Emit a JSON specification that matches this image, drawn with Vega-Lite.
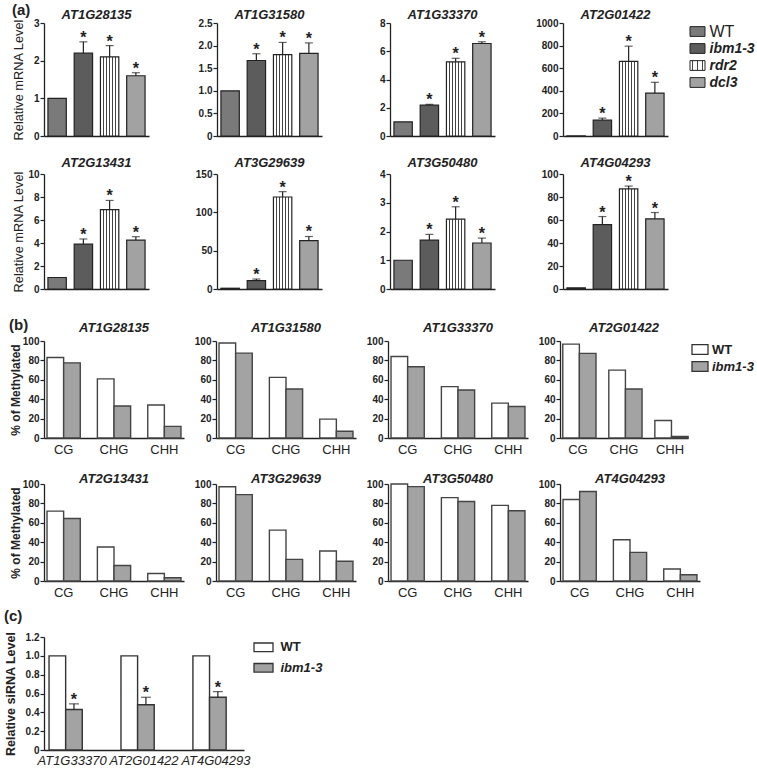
{
"$schema":"https://vega.github.io/schema/vega-lite/v6.json",
"padding":{"left":3,"top":3,"right":0,"bottom":0},
"datasets":{
"mrna":[
{"gene":"AT1G28135","g":"WT","v":1.0,"hi":null},
{"gene":"AT1G28135","g":"ibm1-3","v":2.2,"hi":2.5},
{"gene":"AT1G28135","g":"rdr2","v":2.1,"hi":2.4},
{"gene":"AT1G28135","g":"dcl3","v":1.6,"hi":1.68},
{"gene":"AT1G31580","g":"WT","v":1.0,"hi":null},
{"gene":"AT1G31580","g":"ibm1-3","v":1.67,"hi":1.82},
{"gene":"AT1G31580","g":"rdr2","v":1.8,"hi":2.07},
{"gene":"AT1G31580","g":"dcl3","v":1.83,"hi":2.06},
{"gene":"AT1G33370","g":"WT","v":1.0,"hi":null},
{"gene":"AT1G33370","g":"ibm1-3","v":2.18,"hi":2.24},
{"gene":"AT1G33370","g":"rdr2","v":5.25,"hi":5.5},
{"gene":"AT1G33370","g":"dcl3","v":6.55,"hi":6.67},
{"gene":"AT2G01422","g":"WT","v":1,"hi":null},
{"gene":"AT2G01422","g":"ibm1-3","v":140,"hi":158},
{"gene":"AT2G01422","g":"rdr2","v":660,"hi":795},
{"gene":"AT2G01422","g":"dcl3","v":380,"hi":475},
{"gene":"AT2G13431","g":"WT","v":1.0,"hi":null},
{"gene":"AT2G13431","g":"ibm1-3","v":3.9,"hi":4.35},
{"gene":"AT2G13431","g":"rdr2","v":6.9,"hi":7.7},
{"gene":"AT2G13431","g":"dcl3","v":4.25,"hi":4.55},
{"gene":"AT3G29639","g":"WT","v":1,"hi":null},
{"gene":"AT3G29639","g":"ibm1-3","v":11,"hi":13},
{"gene":"AT3G29639","g":"rdr2","v":120,"hi":127},
{"gene":"AT3G29639","g":"dcl3","v":63,"hi":68.5},
{"gene":"AT3G50480","g":"WT","v":1.0,"hi":null},
{"gene":"AT3G50480","g":"ibm1-3","v":1.7,"hi":1.9},
{"gene":"AT3G50480","g":"rdr2","v":2.43,"hi":2.86},
{"gene":"AT3G50480","g":"dcl3","v":1.6,"hi":1.77},
{"gene":"AT4G04293","g":"WT","v":1,"hi":null},
{"gene":"AT4G04293","g":"ibm1-3","v":56,"hi":63},
{"gene":"AT4G04293","g":"rdr2","v":87,"hi":89.5},
{"gene":"AT4G04293","g":"dcl3","v":61,"hi":66.5}
],
"meth":[
{"gene":"AT1G28135","c":"CG","g":"WT","v":83},{"gene":"AT1G28135","c":"CG","g":"ibm1-3","v":77.5},
{"gene":"AT1G28135","c":"CHG","g":"WT","v":61},{"gene":"AT1G28135","c":"CHG","g":"ibm1-3","v":33},
{"gene":"AT1G28135","c":"CHH","g":"WT","v":34},{"gene":"AT1G28135","c":"CHH","g":"ibm1-3","v":12},
{"gene":"AT1G31580","c":"CG","g":"WT","v":98},{"gene":"AT1G31580","c":"CG","g":"ibm1-3","v":87.5},
{"gene":"AT1G31580","c":"CHG","g":"WT","v":62.5},{"gene":"AT1G31580","c":"CHG","g":"ibm1-3","v":50.5},
{"gene":"AT1G31580","c":"CHH","g":"WT","v":19.5},{"gene":"AT1G31580","c":"CHH","g":"ibm1-3","v":7},
{"gene":"AT1G33370","c":"CG","g":"WT","v":84},{"gene":"AT1G33370","c":"CG","g":"ibm1-3","v":73.5},
{"gene":"AT1G33370","c":"CHG","g":"WT","v":53},{"gene":"AT1G33370","c":"CHG","g":"ibm1-3","v":49.5},
{"gene":"AT1G33370","c":"CHH","g":"WT","v":36},{"gene":"AT1G33370","c":"CHH","g":"ibm1-3","v":32.5},
{"gene":"AT2G01422","c":"CG","g":"WT","v":96.8},{"gene":"AT2G01422","c":"CG","g":"ibm1-3","v":87.2},
{"gene":"AT2G01422","c":"CHG","g":"WT","v":70},{"gene":"AT2G01422","c":"CHG","g":"ibm1-3","v":50.5},
{"gene":"AT2G01422","c":"CHH","g":"WT","v":18},{"gene":"AT2G01422","c":"CHH","g":"ibm1-3","v":1.5},
{"gene":"AT2G13431","c":"CG","g":"WT","v":72},{"gene":"AT2G13431","c":"CG","g":"ibm1-3","v":64.5},
{"gene":"AT2G13431","c":"CHG","g":"WT","v":35},{"gene":"AT2G13431","c":"CHG","g":"ibm1-3","v":16},
{"gene":"AT2G13431","c":"CHH","g":"WT","v":7.8},{"gene":"AT2G13431","c":"CHH","g":"ibm1-3","v":3.3},
{"gene":"AT3G29639","c":"CG","g":"WT","v":97.2},{"gene":"AT3G29639","c":"CG","g":"ibm1-3","v":89},
{"gene":"AT3G29639","c":"CHG","g":"WT","v":52.5},{"gene":"AT3G29639","c":"CHG","g":"ibm1-3","v":22.3},
{"gene":"AT3G29639","c":"CHH","g":"WT","v":31},{"gene":"AT3G29639","c":"CHH","g":"ibm1-3","v":20.3},
{"gene":"AT3G50480","c":"CG","g":"WT","v":100},{"gene":"AT3G50480","c":"CG","g":"ibm1-3","v":97.3},
{"gene":"AT3G50480","c":"CHG","g":"WT","v":86},{"gene":"AT3G50480","c":"CHG","g":"ibm1-3","v":82},
{"gene":"AT3G50480","c":"CHH","g":"WT","v":78},{"gene":"AT3G50480","c":"CHH","g":"ibm1-3","v":72.5},
{"gene":"AT4G04293","c":"CG","g":"WT","v":84},{"gene":"AT4G04293","c":"CG","g":"ibm1-3","v":92.3},
{"gene":"AT4G04293","c":"CHG","g":"WT","v":42.5},{"gene":"AT4G04293","c":"CHG","g":"ibm1-3","v":29.5},
{"gene":"AT4G04293","c":"CHH","g":"WT","v":12.4},{"gene":"AT4G04293","c":"CHH","g":"ibm1-3","v":6.5}
],
"sirna":[
{"gene":"AT1G33370","g":"WT","v":1.0,"hi":null},{"gene":"AT1G33370","g":"ibm1-3","v":0.43,"hi":0.49},
{"gene":"AT2G01422","g":"WT","v":1.0,"hi":null},{"gene":"AT2G01422","g":"ibm1-3","v":0.48,"hi":0.56},
{"gene":"AT4G04293","g":"WT","v":1.0,"hi":null},{"gene":"AT4G04293","g":"ibm1-3","v":0.56,"hi":0.62}
],
"legA":[{"g":"WT"},{"g":"ibm1-3"},{"g":"rdr2"},{"g":"dcl3"}],
"legB":[{"g":"WT"},{"g":"ibm1-3"}]
},
"config":{
"font":"Liberation Sans",
"view":{"stroke":null},
"axis":{"grid":false,"labelOverlap":false,"domainColor":"#222222","domainWidth":1.3,"tickColor":"#222222","tickWidth":1.2,"tickSize":4,"labelColor":"#222222","labelFontSize":10,"labelFontWeight":"bold","labelPadding":1,"titleColor":"#222222"},
"title":{"fontSize":13,"fontWeight":"bold","fontStyle":"italic","color":"#222222","offset":4},
"bar":{"stroke":"#222222","strokeWidth":1.2},
"rule":{"color":"#222222","strokeWidth":1.2},
"tick":{"color":"#222222","thickness":1.2},
"text":{"fontSize":16,"fontWeight":"bold","color":"#222222"}
},
"vconcat":[
{"vconcat":[
{"title":{"text":"(a)","anchor":"start","fontSize":15,"fontStyle":"normal","fontWeight":"bold","offset":-9},
"vconcat":[
{"hconcat":[
{"width":105,"height":113,"data":{"name":"mrna"},"transform":[{"filter":"datum.gene==='AT1G28135'"}],"title":{"text":"AT1G28135","offset":-4},
"encoding":{"x":{"field":"g","type":"nominal","sort":["WT","ibm1-3","rdr2","dcl3"],"scale":{"paddingInner":0.3,"paddingOuter":0.15},"axis":{"labels":false,"ticks":false,"title":null}}},
"layer":[
{"mark":"bar","encoding":{"y":{"field":"v","type":"quantitative","scale":{"domain":[0,3],"nice":false},"axis":{"values":[0,1,2,3],"labelOverlap":false,"title":"Relative mRNA Level","titleFontSize":12.8,"titleFontWeight":"normal","titlePadding":1,"minExtent":18,"maxExtent":18}},
"fill":{"condition":[{"test":"datum.g==='WT'","value":"#7a7a7a"},{"test":"datum.g==='ibm1-3'","value":"#5c5c5c"},{"test":"datum.g==='rdr2'","value":{"gradient":"linear","x1":0,"y1":0,"x2":1,"y2":0,"stops":[{"offset":0,"color":"#ffffff"},{"offset":0.14,"color":"#ffffff"},{"offset":0.14,"color":"#444444"},{"offset":0.19,"color":"#444444"},{"offset":0.19,"color":"#ffffff"},{"offset":0.31,"color":"#ffffff"},{"offset":0.31,"color":"#444444"},{"offset":0.36,"color":"#444444"},{"offset":0.36,"color":"#ffffff"},{"offset":0.48,"color":"#ffffff"},{"offset":0.48,"color":"#444444"},{"offset":0.53,"color":"#444444"},{"offset":0.53,"color":"#ffffff"},{"offset":0.64,"color":"#ffffff"},{"offset":0.64,"color":"#444444"},{"offset":0.69,"color":"#444444"},{"offset":0.69,"color":"#ffffff"},{"offset":0.81,"color":"#ffffff"},{"offset":0.81,"color":"#444444"},{"offset":0.86,"color":"#444444"},{"offset":0.86,"color":"#ffffff"},{"offset":1,"color":"#ffffff"}]}}],"value":"#a2a2a2"}}},
{"transform":[{"filter":"isValid(datum.hi)"}],"mark":"rule","encoding":{"y":{"field":"v","type":"quantitative","axis":{"values":[0,1,2,3],"labelOverlap":false,"title":"Relative mRNA Level","titleFontSize":12.8,"titleFontWeight":"normal","titlePadding":1,"minExtent":18,"maxExtent":18}},"y2":{"field":"hi"}}},
{"transform":[{"filter":"isValid(datum.hi)"}],"mark":{"type":"tick","size":8},"encoding":{"y":{"field":"hi","type":"quantitative","axis":{"values":[0,1,2,3],"labelOverlap":false,"title":"Relative mRNA Level","titleFontSize":12.8,"titleFontWeight":"normal","titlePadding":1,"minExtent":18,"maxExtent":18}}}},
{"transform":[{"filter":"isValid(datum.hi)"}],"mark":{"type":"text","text":"*","baseline":"alphabetic","dy":1},"encoding":{"y":{"field":"hi","type":"quantitative","axis":{"values":[0,1,2,3],"labelOverlap":false,"title":"Relative mRNA Level","titleFontSize":12.8,"titleFontWeight":"normal","titlePadding":1,"minExtent":18,"maxExtent":18}}}}
]},
{"width":105,"height":113,"data":{"name":"mrna"},"transform":[{"filter":"datum.gene==='AT1G31580'"}],"title":{"text":"AT1G31580","offset":-4},
"encoding":{"x":{"field":"g","type":"nominal","sort":["WT","ibm1-3","rdr2","dcl3"],"scale":{"paddingInner":0.3,"paddingOuter":0.15},"axis":{"labels":false,"ticks":false,"title":null}}},
"layer":[
{"mark":"bar","encoding":{"y":{"field":"v","type":"quantitative","scale":{"domain":[0,2.5],"nice":false},"axis":{"values":[0,0.5,1,1.5,2,2.5],"labelOverlap":false,"labelExpr":"datum.value===0?'0':format(datum.value,'.1f')","title":null,"minExtent":30,"maxExtent":30}},
"fill":{"condition":[{"test":"datum.g==='WT'","value":"#7a7a7a"},{"test":"datum.g==='ibm1-3'","value":"#5c5c5c"},{"test":"datum.g==='rdr2'","value":{"gradient":"linear","x1":0,"y1":0,"x2":1,"y2":0,"stops":[{"offset":0,"color":"#ffffff"},{"offset":0.14,"color":"#ffffff"},{"offset":0.14,"color":"#444444"},{"offset":0.19,"color":"#444444"},{"offset":0.19,"color":"#ffffff"},{"offset":0.31,"color":"#ffffff"},{"offset":0.31,"color":"#444444"},{"offset":0.36,"color":"#444444"},{"offset":0.36,"color":"#ffffff"},{"offset":0.48,"color":"#ffffff"},{"offset":0.48,"color":"#444444"},{"offset":0.53,"color":"#444444"},{"offset":0.53,"color":"#ffffff"},{"offset":0.64,"color":"#ffffff"},{"offset":0.64,"color":"#444444"},{"offset":0.69,"color":"#444444"},{"offset":0.69,"color":"#ffffff"},{"offset":0.81,"color":"#ffffff"},{"offset":0.81,"color":"#444444"},{"offset":0.86,"color":"#444444"},{"offset":0.86,"color":"#ffffff"},{"offset":1,"color":"#ffffff"}]}}],"value":"#a2a2a2"}}},
{"transform":[{"filter":"isValid(datum.hi)"}],"mark":"rule","encoding":{"y":{"field":"v","type":"quantitative","axis":{"values":[0,0.5,1,1.5,2,2.5],"labelOverlap":false,"labelExpr":"datum.value===0?'0':format(datum.value,'.1f')","title":null,"minExtent":30,"maxExtent":30}},"y2":{"field":"hi"}}},
{"transform":[{"filter":"isValid(datum.hi)"}],"mark":{"type":"tick","size":8},"encoding":{"y":{"field":"hi","type":"quantitative","axis":{"values":[0,0.5,1,1.5,2,2.5],"labelOverlap":false,"labelExpr":"datum.value===0?'0':format(datum.value,'.1f')","title":null,"minExtent":30,"maxExtent":30}}}},
{"transform":[{"filter":"isValid(datum.hi)"}],"mark":{"type":"text","text":"*","baseline":"alphabetic","dy":1},"encoding":{"y":{"field":"hi","type":"quantitative","axis":{"values":[0,0.5,1,1.5,2,2.5],"labelOverlap":false,"labelExpr":"datum.value===0?'0':format(datum.value,'.1f')","title":null,"minExtent":30,"maxExtent":30}}}}
]},
{"width":105,"height":113,"data":{"name":"mrna"},"transform":[{"filter":"datum.gene==='AT1G33370'"}],"title":{"text":"AT1G33370","offset":-4},
"encoding":{"x":{"field":"g","type":"nominal","sort":["WT","ibm1-3","rdr2","dcl3"],"scale":{"paddingInner":0.3,"paddingOuter":0.15},"axis":{"labels":false,"ticks":false,"title":null}}},
"layer":[
{"mark":"bar","encoding":{"y":{"field":"v","type":"quantitative","scale":{"domain":[0,8],"nice":false},"axis":{"values":[0,2,4,6,8],"labelOverlap":false,"title":null,"minExtent":30,"maxExtent":30}},
"fill":{"condition":[{"test":"datum.g==='WT'","value":"#7a7a7a"},{"test":"datum.g==='ibm1-3'","value":"#5c5c5c"},{"test":"datum.g==='rdr2'","value":{"gradient":"linear","x1":0,"y1":0,"x2":1,"y2":0,"stops":[{"offset":0,"color":"#ffffff"},{"offset":0.14,"color":"#ffffff"},{"offset":0.14,"color":"#444444"},{"offset":0.19,"color":"#444444"},{"offset":0.19,"color":"#ffffff"},{"offset":0.31,"color":"#ffffff"},{"offset":0.31,"color":"#444444"},{"offset":0.36,"color":"#444444"},{"offset":0.36,"color":"#ffffff"},{"offset":0.48,"color":"#ffffff"},{"offset":0.48,"color":"#444444"},{"offset":0.53,"color":"#444444"},{"offset":0.53,"color":"#ffffff"},{"offset":0.64,"color":"#ffffff"},{"offset":0.64,"color":"#444444"},{"offset":0.69,"color":"#444444"},{"offset":0.69,"color":"#ffffff"},{"offset":0.81,"color":"#ffffff"},{"offset":0.81,"color":"#444444"},{"offset":0.86,"color":"#444444"},{"offset":0.86,"color":"#ffffff"},{"offset":1,"color":"#ffffff"}]}}],"value":"#a2a2a2"}}},
{"transform":[{"filter":"isValid(datum.hi)"}],"mark":"rule","encoding":{"y":{"field":"v","type":"quantitative","axis":{"values":[0,2,4,6,8],"labelOverlap":false,"title":null,"minExtent":30,"maxExtent":30}},"y2":{"field":"hi"}}},
{"transform":[{"filter":"isValid(datum.hi)"}],"mark":{"type":"tick","size":8},"encoding":{"y":{"field":"hi","type":"quantitative","axis":{"values":[0,2,4,6,8],"labelOverlap":false,"title":null,"minExtent":30,"maxExtent":30}}}},
{"transform":[{"filter":"isValid(datum.hi)"}],"mark":{"type":"text","text":"*","baseline":"alphabetic","dy":1},"encoding":{"y":{"field":"hi","type":"quantitative","axis":{"values":[0,2,4,6,8],"labelOverlap":false,"title":null,"minExtent":30,"maxExtent":30}}}}
]},
{"hconcat":[
{"width":105,"height":113,"data":{"name":"mrna"},"transform":[{"filter":"datum.gene==='AT2G01422'"}],"title":{"text":"AT2G01422","offset":-4},
"encoding":{"x":{"field":"g","type":"nominal","sort":["WT","ibm1-3","rdr2","dcl3"],"scale":{"paddingInner":0.3,"paddingOuter":0.15},"axis":{"labels":false,"ticks":false,"title":null}}},
"layer":[
{"mark":"bar","encoding":{"y":{"field":"v","type":"quantitative","scale":{"domain":[0,1000],"nice":false},"axis":{"values":[0,200,400,600,800,1000],"format":"d","labelOverlap":false,"title":null,"minExtent":30,"maxExtent":30}},
"fill":{"condition":[{"test":"datum.g==='WT'","value":"#7a7a7a"},{"test":"datum.g==='ibm1-3'","value":"#5c5c5c"},{"test":"datum.g==='rdr2'","value":{"gradient":"linear","x1":0,"y1":0,"x2":1,"y2":0,"stops":[{"offset":0,"color":"#ffffff"},{"offset":0.14,"color":"#ffffff"},{"offset":0.14,"color":"#444444"},{"offset":0.19,"color":"#444444"},{"offset":0.19,"color":"#ffffff"},{"offset":0.31,"color":"#ffffff"},{"offset":0.31,"color":"#444444"},{"offset":0.36,"color":"#444444"},{"offset":0.36,"color":"#ffffff"},{"offset":0.48,"color":"#ffffff"},{"offset":0.48,"color":"#444444"},{"offset":0.53,"color":"#444444"},{"offset":0.53,"color":"#ffffff"},{"offset":0.64,"color":"#ffffff"},{"offset":0.64,"color":"#444444"},{"offset":0.69,"color":"#444444"},{"offset":0.69,"color":"#ffffff"},{"offset":0.81,"color":"#ffffff"},{"offset":0.81,"color":"#444444"},{"offset":0.86,"color":"#444444"},{"offset":0.86,"color":"#ffffff"},{"offset":1,"color":"#ffffff"}]}}],"value":"#a2a2a2"}}},
{"transform":[{"filter":"isValid(datum.hi)"}],"mark":"rule","encoding":{"y":{"field":"v","type":"quantitative","axis":{"values":[0,200,400,600,800,1000],"format":"d","labelOverlap":false,"title":null,"minExtent":30,"maxExtent":30}},"y2":{"field":"hi"}}},
{"transform":[{"filter":"isValid(datum.hi)"}],"mark":{"type":"tick","size":8},"encoding":{"y":{"field":"hi","type":"quantitative","axis":{"values":[0,200,400,600,800,1000],"format":"d","labelOverlap":false,"title":null,"minExtent":30,"maxExtent":30}}}},
{"transform":[{"filter":"isValid(datum.hi)"}],"mark":{"type":"text","text":"*","baseline":"alphabetic","dy":1},"encoding":{"y":{"field":"hi","type":"quantitative","axis":{"values":[0,200,400,600,800,1000],"format":"d","labelOverlap":false,"title":null,"minExtent":30,"maxExtent":30}}}}
]},
{"width":15,"height":68,"data":{"name":"legA"},
"encoding":{"y":{"field":"g","type":"nominal","sort":["WT","ibm1-3","rdr2","dcl3"],"scale":{"type":"point","paddingOuter":0.46},"axis":null}},
"layer":[
{"mark":{"type":"point","shape":"M-1,-0.65L1,-0.65L1,0.65L-1,0.65Z","filled":true,"size":225,"opacity":1,"stroke":"#222222","strokeWidth":1},
"encoding":{"fill":{"condition":[{"test":"datum.g==='WT'","value":"#7a7a7a"},{"test":"datum.g==='ibm1-3'","value":"#5c5c5c"},{"test":"datum.g==='rdr2'","value":{"gradient":"linear","x1":0,"y1":0,"x2":1,"y2":0,"stops":[{"offset":0,"color":"#ffffff"},{"offset":0.14,"color":"#ffffff"},{"offset":0.14,"color":"#444444"},{"offset":0.19,"color":"#444444"},{"offset":0.19,"color":"#ffffff"},{"offset":0.31,"color":"#ffffff"},{"offset":0.31,"color":"#444444"},{"offset":0.36,"color":"#444444"},{"offset":0.36,"color":"#ffffff"},{"offset":0.48,"color":"#ffffff"},{"offset":0.48,"color":"#444444"},{"offset":0.53,"color":"#444444"},{"offset":0.53,"color":"#ffffff"},{"offset":0.64,"color":"#ffffff"},{"offset":0.64,"color":"#444444"},{"offset":0.69,"color":"#444444"},{"offset":0.69,"color":"#ffffff"},{"offset":0.81,"color":"#ffffff"},{"offset":0.81,"color":"#444444"},{"offset":0.86,"color":"#444444"},{"offset":0.86,"color":"#ffffff"},{"offset":1,"color":"#ffffff"}]}}],"value":"#a2a2a2"}}},
{"transform":[{"filter":"datum.g==='WT'"}],"mark":{"type":"text","align":"left","dx":12,"fontSize":16,"fontWeight":"normal"},"encoding":{"text":{"field":"g"}}},
{"transform":[{"filter":"datum.g!=='WT'"}],"mark":{"type":"text","align":"left","dx":12,"fontSize":14,"fontStyle":"italic","fontWeight":"bold"},"encoding":{"text":{"field":"g"}}}
]}
],"spacing":20}
],"spacing":38},
{"hconcat":[
{"width":105,"height":115,"data":{"name":"mrna"},"transform":[{"filter":"datum.gene==='AT2G13431'"}],"title":{"text":"AT2G13431","offset":-1},
"encoding":{"x":{"field":"g","type":"nominal","sort":["WT","ibm1-3","rdr2","dcl3"],"scale":{"paddingInner":0.3,"paddingOuter":0.15},"axis":{"labels":false,"ticks":false,"title":null}}},
"layer":[
{"mark":"bar","encoding":{"y":{"field":"v","type":"quantitative","scale":{"domain":[0,10],"nice":false},"axis":{"values":[0,2,4,6,8,10],"labelOverlap":false,"title":"Relative mRNA Level","titleFontSize":12.8,"titleFontWeight":"normal","titlePadding":1,"minExtent":18,"maxExtent":18}},
"fill":{"condition":[{"test":"datum.g==='WT'","value":"#7a7a7a"},{"test":"datum.g==='ibm1-3'","value":"#5c5c5c"},{"test":"datum.g==='rdr2'","value":{"gradient":"linear","x1":0,"y1":0,"x2":1,"y2":0,"stops":[{"offset":0,"color":"#ffffff"},{"offset":0.14,"color":"#ffffff"},{"offset":0.14,"color":"#444444"},{"offset":0.19,"color":"#444444"},{"offset":0.19,"color":"#ffffff"},{"offset":0.31,"color":"#ffffff"},{"offset":0.31,"color":"#444444"},{"offset":0.36,"color":"#444444"},{"offset":0.36,"color":"#ffffff"},{"offset":0.48,"color":"#ffffff"},{"offset":0.48,"color":"#444444"},{"offset":0.53,"color":"#444444"},{"offset":0.53,"color":"#ffffff"},{"offset":0.64,"color":"#ffffff"},{"offset":0.64,"color":"#444444"},{"offset":0.69,"color":"#444444"},{"offset":0.69,"color":"#ffffff"},{"offset":0.81,"color":"#ffffff"},{"offset":0.81,"color":"#444444"},{"offset":0.86,"color":"#444444"},{"offset":0.86,"color":"#ffffff"},{"offset":1,"color":"#ffffff"}]}}],"value":"#a2a2a2"}}},
{"transform":[{"filter":"isValid(datum.hi)"}],"mark":"rule","encoding":{"y":{"field":"v","type":"quantitative","axis":{"values":[0,2,4,6,8,10],"labelOverlap":false,"title":"Relative mRNA Level","titleFontSize":12.8,"titleFontWeight":"normal","titlePadding":1,"minExtent":18,"maxExtent":18}},"y2":{"field":"hi"}}},
{"transform":[{"filter":"isValid(datum.hi)"}],"mark":{"type":"tick","size":8},"encoding":{"y":{"field":"hi","type":"quantitative","axis":{"values":[0,2,4,6,8,10],"labelOverlap":false,"title":"Relative mRNA Level","titleFontSize":12.8,"titleFontWeight":"normal","titlePadding":1,"minExtent":18,"maxExtent":18}}}},
{"transform":[{"filter":"isValid(datum.hi)"}],"mark":{"type":"text","text":"*","baseline":"alphabetic","dy":1},"encoding":{"y":{"field":"hi","type":"quantitative","axis":{"values":[0,2,4,6,8,10],"labelOverlap":false,"title":"Relative mRNA Level","titleFontSize":12.8,"titleFontWeight":"normal","titlePadding":1,"minExtent":18,"maxExtent":18}}}}
]},
{"width":105,"height":115,"data":{"name":"mrna"},"transform":[{"filter":"datum.gene==='AT3G29639'"}],"title":{"text":"AT3G29639","offset":-1},
"encoding":{"x":{"field":"g","type":"nominal","sort":["WT","ibm1-3","rdr2","dcl3"],"scale":{"paddingInner":0.3,"paddingOuter":0.15},"axis":{"labels":false,"ticks":false,"title":null}}},
"layer":[
{"mark":"bar","encoding":{"y":{"field":"v","type":"quantitative","scale":{"domain":[0,150],"nice":false},"axis":{"values":[0,50,100,150],"labelOverlap":false,"title":null,"minExtent":30,"maxExtent":30}},
"fill":{"condition":[{"test":"datum.g==='WT'","value":"#7a7a7a"},{"test":"datum.g==='ibm1-3'","value":"#5c5c5c"},{"test":"datum.g==='rdr2'","value":{"gradient":"linear","x1":0,"y1":0,"x2":1,"y2":0,"stops":[{"offset":0,"color":"#ffffff"},{"offset":0.14,"color":"#ffffff"},{"offset":0.14,"color":"#444444"},{"offset":0.19,"color":"#444444"},{"offset":0.19,"color":"#ffffff"},{"offset":0.31,"color":"#ffffff"},{"offset":0.31,"color":"#444444"},{"offset":0.36,"color":"#444444"},{"offset":0.36,"color":"#ffffff"},{"offset":0.48,"color":"#ffffff"},{"offset":0.48,"color":"#444444"},{"offset":0.53,"color":"#444444"},{"offset":0.53,"color":"#ffffff"},{"offset":0.64,"color":"#ffffff"},{"offset":0.64,"color":"#444444"},{"offset":0.69,"color":"#444444"},{"offset":0.69,"color":"#ffffff"},{"offset":0.81,"color":"#ffffff"},{"offset":0.81,"color":"#444444"},{"offset":0.86,"color":"#444444"},{"offset":0.86,"color":"#ffffff"},{"offset":1,"color":"#ffffff"}]}}],"value":"#a2a2a2"}}},
{"transform":[{"filter":"isValid(datum.hi)"}],"mark":"rule","encoding":{"y":{"field":"v","type":"quantitative","axis":{"values":[0,50,100,150],"labelOverlap":false,"title":null,"minExtent":30,"maxExtent":30}},"y2":{"field":"hi"}}},
{"transform":[{"filter":"isValid(datum.hi)"}],"mark":{"type":"tick","size":8},"encoding":{"y":{"field":"hi","type":"quantitative","axis":{"values":[0,50,100,150],"labelOverlap":false,"title":null,"minExtent":30,"maxExtent":30}}}},
{"transform":[{"filter":"isValid(datum.hi)"}],"mark":{"type":"text","text":"*","baseline":"alphabetic","dy":1},"encoding":{"y":{"field":"hi","type":"quantitative","axis":{"values":[0,50,100,150],"labelOverlap":false,"title":null,"minExtent":30,"maxExtent":30}}}}
]},
{"width":105,"height":115,"data":{"name":"mrna"},"transform":[{"filter":"datum.gene==='AT3G50480'"}],"title":{"text":"AT3G50480","offset":-1},
"encoding":{"x":{"field":"g","type":"nominal","sort":["WT","ibm1-3","rdr2","dcl3"],"scale":{"paddingInner":0.3,"paddingOuter":0.15},"axis":{"labels":false,"ticks":false,"title":null}}},
"layer":[
{"mark":"bar","encoding":{"y":{"field":"v","type":"quantitative","scale":{"domain":[0,4],"nice":false},"axis":{"values":[0,1,2,3,4],"labelOverlap":false,"title":null,"minExtent":30,"maxExtent":30}},
"fill":{"condition":[{"test":"datum.g==='WT'","value":"#7a7a7a"},{"test":"datum.g==='ibm1-3'","value":"#5c5c5c"},{"test":"datum.g==='rdr2'","value":{"gradient":"linear","x1":0,"y1":0,"x2":1,"y2":0,"stops":[{"offset":0,"color":"#ffffff"},{"offset":0.14,"color":"#ffffff"},{"offset":0.14,"color":"#444444"},{"offset":0.19,"color":"#444444"},{"offset":0.19,"color":"#ffffff"},{"offset":0.31,"color":"#ffffff"},{"offset":0.31,"color":"#444444"},{"offset":0.36,"color":"#444444"},{"offset":0.36,"color":"#ffffff"},{"offset":0.48,"color":"#ffffff"},{"offset":0.48,"color":"#444444"},{"offset":0.53,"color":"#444444"},{"offset":0.53,"color":"#ffffff"},{"offset":0.64,"color":"#ffffff"},{"offset":0.64,"color":"#444444"},{"offset":0.69,"color":"#444444"},{"offset":0.69,"color":"#ffffff"},{"offset":0.81,"color":"#ffffff"},{"offset":0.81,"color":"#444444"},{"offset":0.86,"color":"#444444"},{"offset":0.86,"color":"#ffffff"},{"offset":1,"color":"#ffffff"}]}}],"value":"#a2a2a2"}}},
{"transform":[{"filter":"isValid(datum.hi)"}],"mark":"rule","encoding":{"y":{"field":"v","type":"quantitative","axis":{"values":[0,1,2,3,4],"labelOverlap":false,"title":null,"minExtent":30,"maxExtent":30}},"y2":{"field":"hi"}}},
{"transform":[{"filter":"isValid(datum.hi)"}],"mark":{"type":"tick","size":8},"encoding":{"y":{"field":"hi","type":"quantitative","axis":{"values":[0,1,2,3,4],"labelOverlap":false,"title":null,"minExtent":30,"maxExtent":30}}}},
{"transform":[{"filter":"isValid(datum.hi)"}],"mark":{"type":"text","text":"*","baseline":"alphabetic","dy":1},"encoding":{"y":{"field":"hi","type":"quantitative","axis":{"values":[0,1,2,3,4],"labelOverlap":false,"title":null,"minExtent":30,"maxExtent":30}}}}
]},
{"width":105,"height":115,"data":{"name":"mrna"},"transform":[{"filter":"datum.gene==='AT4G04293'"}],"title":{"text":"AT4G04293","offset":-1},
"encoding":{"x":{"field":"g","type":"nominal","sort":["WT","ibm1-3","rdr2","dcl3"],"scale":{"paddingInner":0.3,"paddingOuter":0.15},"axis":{"labels":false,"ticks":false,"title":null}}},
"layer":[
{"mark":"bar","encoding":{"y":{"field":"v","type":"quantitative","scale":{"domain":[0,100],"nice":false},"axis":{"values":[0,20,40,60,80,100],"labelOverlap":false,"title":null,"minExtent":30,"maxExtent":30}},
"fill":{"condition":[{"test":"datum.g==='WT'","value":"#7a7a7a"},{"test":"datum.g==='ibm1-3'","value":"#5c5c5c"},{"test":"datum.g==='rdr2'","value":{"gradient":"linear","x1":0,"y1":0,"x2":1,"y2":0,"stops":[{"offset":0,"color":"#ffffff"},{"offset":0.14,"color":"#ffffff"},{"offset":0.14,"color":"#444444"},{"offset":0.19,"color":"#444444"},{"offset":0.19,"color":"#ffffff"},{"offset":0.31,"color":"#ffffff"},{"offset":0.31,"color":"#444444"},{"offset":0.36,"color":"#444444"},{"offset":0.36,"color":"#ffffff"},{"offset":0.48,"color":"#ffffff"},{"offset":0.48,"color":"#444444"},{"offset":0.53,"color":"#444444"},{"offset":0.53,"color":"#ffffff"},{"offset":0.64,"color":"#ffffff"},{"offset":0.64,"color":"#444444"},{"offset":0.69,"color":"#444444"},{"offset":0.69,"color":"#ffffff"},{"offset":0.81,"color":"#ffffff"},{"offset":0.81,"color":"#444444"},{"offset":0.86,"color":"#444444"},{"offset":0.86,"color":"#ffffff"},{"offset":1,"color":"#ffffff"}]}}],"value":"#a2a2a2"}}},
{"transform":[{"filter":"isValid(datum.hi)"}],"mark":"rule","encoding":{"y":{"field":"v","type":"quantitative","axis":{"values":[0,20,40,60,80,100],"labelOverlap":false,"title":null,"minExtent":30,"maxExtent":30}},"y2":{"field":"hi"}}},
{"transform":[{"filter":"isValid(datum.hi)"}],"mark":{"type":"tick","size":8},"encoding":{"y":{"field":"hi","type":"quantitative","axis":{"values":[0,20,40,60,80,100],"labelOverlap":false,"title":null,"minExtent":30,"maxExtent":30}}}},
{"transform":[{"filter":"isValid(datum.hi)"}],"mark":{"type":"text","text":"*","baseline":"alphabetic","dy":1},"encoding":{"y":{"field":"hi","type":"quantitative","axis":{"values":[0,20,40,60,80,100],"labelOverlap":false,"title":null,"minExtent":30,"maxExtent":30}}}}
]}
],"spacing":38}
],"spacing":16},
{"title":{"text":"(b)","anchor":"start","fontSize":15,"fontStyle":"normal","fontWeight":"bold","offset":-11},
"vconcat":[
{"hconcat":[
{"width":140,"height":97,"data":{"name":"meth"},"transform":[{"filter":"datum.gene==='AT1G28135'"}],"title":{"text":"AT1G28135","offset":1},"mark":{"type":"bar","stroke":"#444444","strokeWidth":1.4},
"encoding":{"x":{"field":"c","type":"nominal","sort":["CG","CHG","CHH"],"scale":{"paddingInner":0.34,"paddingOuter":0.06},"axis":{"title":null,"labelAngle":0,"ticks":false,"labelFontSize":13,"labelFontWeight":"normal","labelPadding":5}},"xOffset":{"field":"g","type":"nominal","sort":["WT","ibm1-3"]},
"y":{"field":"v","type":"quantitative","scale":{"domain":[0,100],"nice":false},"axis":{"values":[0,20,40,60,80,100],"title":"% of Methylated","titleFontSize":12,"titlePadding":0,"minExtent":22,"maxExtent":22}},
"fill":{"condition":{"test":"datum.g==='WT'","value":"#ffffff"},"value":"#a3a3a3"}}},
{"width":140,"height":97,"data":{"name":"meth"},"transform":[{"filter":"datum.gene==='AT1G31580'"}],"title":{"text":"AT1G31580","offset":1},"mark":{"type":"bar","stroke":"#444444","strokeWidth":1.4},
"encoding":{"x":{"field":"c","type":"nominal","sort":["CG","CHG","CHH"],"scale":{"paddingInner":0.34,"paddingOuter":0.06},"axis":{"title":null,"labelAngle":0,"ticks":false,"labelFontSize":13,"labelFontWeight":"normal","labelPadding":5}},"xOffset":{"field":"g","type":"nominal","sort":["WT","ibm1-3"]},
"y":{"field":"v","type":"quantitative","scale":{"domain":[0,100],"nice":false},"axis":{"values":[0,20,40,60,80,100],"title":null,"minExtent":26,"maxExtent":26}},
"fill":{"condition":{"test":"datum.g==='WT'","value":"#ffffff"},"value":"#a3a3a3"}}},
{"width":140,"height":97,"data":{"name":"meth"},"transform":[{"filter":"datum.gene==='AT1G33370'"}],"title":{"text":"AT1G33370","offset":1},"mark":{"type":"bar","stroke":"#444444","strokeWidth":1.4},
"encoding":{"x":{"field":"c","type":"nominal","sort":["CG","CHG","CHH"],"scale":{"paddingInner":0.34,"paddingOuter":0.06},"axis":{"title":null,"labelAngle":0,"ticks":false,"labelFontSize":13,"labelFontWeight":"normal","labelPadding":5}},"xOffset":{"field":"g","type":"nominal","sort":["WT","ibm1-3"]},
"y":{"field":"v","type":"quantitative","scale":{"domain":[0,100],"nice":false},"axis":{"values":[0,20,40,60,80,100],"title":null,"minExtent":26,"maxExtent":26}},
"fill":{"condition":{"test":"datum.g==='WT'","value":"#ffffff"},"value":"#a3a3a3"}}},
{"hconcat":[
{"width":128,"height":97,"data":{"name":"meth"},"transform":[{"filter":"datum.gene==='AT2G01422'"}],"title":{"text":"AT2G01422","offset":1},"mark":{"type":"bar","stroke":"#444444","strokeWidth":1.4},
"encoding":{"x":{"field":"c","type":"nominal","sort":["CG","CHG","CHH"],"scale":{"paddingInner":0.34,"paddingOuter":0.06},"axis":{"title":null,"labelAngle":0,"ticks":false,"labelFontSize":13,"labelFontWeight":"normal","labelPadding":5}},"xOffset":{"field":"g","type":"nominal","sort":["WT","ibm1-3"]},
"y":{"field":"v","type":"quantitative","scale":{"domain":[0,100],"nice":false},"axis":{"values":[0,20,40,60,80,100],"title":null,"minExtent":26,"maxExtent":26}},
"fill":{"condition":{"test":"datum.g==='WT'","value":"#ffffff"},"value":"#a3a3a3"}}},
{"width":16,"height":34,"data":{"name":"legB"},
"encoding":{"y":{"field":"g","type":"nominal","sort":["WT","ibm1-3"],"scale":{"type":"point","paddingOuter":0.44},"axis":null}},
"layer":[
{"mark":{"type":"point","shape":"M-1,-0.62L1,-0.62L1,0.62L-1,0.62Z","filled":true,"size":256,"opacity":1,"stroke":"#333333","strokeWidth":1.3},"encoding":{"fill":{"condition":{"test":"datum.g==='WT'","value":"#ffffff"},"value":"#a3a3a3"}}},
{"transform":[{"filter":"datum.g==='WT'"}],"mark":{"type":"text","align":"left","dx":12,"fontSize":13,"fontWeight":"bold"},"encoding":{"text":{"field":"g"}}},
{"transform":[{"filter":"datum.g!=='WT'"}],"mark":{"type":"text","align":"left","dx":12,"fontSize":13,"fontStyle":"italic","fontWeight":"bold"},"encoding":{"text":{"field":"g"}}}
]}
],"spacing":0}
],"spacing":6},
{"hconcat":[
{"width":140,"height":97,"data":{"name":"meth"},"transform":[{"filter":"datum.gene==='AT2G13431'"}],"title":{"text":"AT2G13431","offset":-7},"mark":{"type":"bar","stroke":"#444444","strokeWidth":1.4},
"encoding":{"x":{"field":"c","type":"nominal","sort":["CG","CHG","CHH"],"scale":{"paddingInner":0.34,"paddingOuter":0.06},"axis":{"title":null,"labelAngle":0,"ticks":false,"labelFontSize":13,"labelFontWeight":"normal","labelPadding":5}},"xOffset":{"field":"g","type":"nominal","sort":["WT","ibm1-3"]},
"y":{"field":"v","type":"quantitative","scale":{"domain":[0,100],"nice":false},"axis":{"values":[0,20,40,60,80,100],"title":"% of Methylated","titleFontSize":12,"titlePadding":0,"minExtent":22,"maxExtent":22}},
"fill":{"condition":{"test":"datum.g==='WT'","value":"#ffffff"},"value":"#a3a3a3"}}},
{"width":140,"height":97,"data":{"name":"meth"},"transform":[{"filter":"datum.gene==='AT3G29639'"}],"title":{"text":"AT3G29639","offset":-7},"mark":{"type":"bar","stroke":"#444444","strokeWidth":1.4},
"encoding":{"x":{"field":"c","type":"nominal","sort":["CG","CHG","CHH"],"scale":{"paddingInner":0.34,"paddingOuter":0.06},"axis":{"title":null,"labelAngle":0,"ticks":false,"labelFontSize":13,"labelFontWeight":"normal","labelPadding":5}},"xOffset":{"field":"g","type":"nominal","sort":["WT","ibm1-3"]},
"y":{"field":"v","type":"quantitative","scale":{"domain":[0,100],"nice":false},"axis":{"values":[0,20,40,60,80,100],"title":null,"minExtent":26,"maxExtent":26}},
"fill":{"condition":{"test":"datum.g==='WT'","value":"#ffffff"},"value":"#a3a3a3"}}},
{"width":140,"height":97,"data":{"name":"meth"},"transform":[{"filter":"datum.gene==='AT3G50480'"}],"title":{"text":"AT3G50480","offset":-7},"mark":{"type":"bar","stroke":"#444444","strokeWidth":1.4},
"encoding":{"x":{"field":"c","type":"nominal","sort":["CG","CHG","CHH"],"scale":{"paddingInner":0.34,"paddingOuter":0.06},"axis":{"title":null,"labelAngle":0,"ticks":false,"labelFontSize":13,"labelFontWeight":"normal","labelPadding":5}},"xOffset":{"field":"g","type":"nominal","sort":["WT","ibm1-3"]},
"y":{"field":"v","type":"quantitative","scale":{"domain":[0,100],"nice":false},"axis":{"values":[0,20,40,60,80,100],"title":null,"minExtent":26,"maxExtent":26}},
"fill":{"condition":{"test":"datum.g==='WT'","value":"#ffffff"},"value":"#a3a3a3"}}},
{"width":140,"height":97,"data":{"name":"meth"},"transform":[{"filter":"datum.gene==='AT4G04293'"}],"title":{"text":"AT4G04293","offset":-7},"mark":{"type":"bar","stroke":"#444444","strokeWidth":1.4},
"encoding":{"x":{"field":"c","type":"nominal","sort":["CG","CHG","CHH"],"scale":{"paddingInner":0.34,"paddingOuter":0.06},"axis":{"title":null,"labelAngle":0,"ticks":false,"labelFontSize":13,"labelFontWeight":"normal","labelPadding":5}},"xOffset":{"field":"g","type":"nominal","sort":["WT","ibm1-3"]},
"y":{"field":"v","type":"quantitative","scale":{"domain":[0,100],"nice":false},"axis":{"values":[0,20,40,60,80,100],"title":null,"minExtent":26,"maxExtent":26}},
"fill":{"condition":{"test":"datum.g==='WT'","value":"#ffffff"},"value":"#a3a3a3"}}}
],"spacing":6}
],"spacing":17}
],"spacing":24},
{"title":{"text":"(c)","anchor":"start","fontSize":15,"fontStyle":"normal","fontWeight":"bold","offset":7},
"hconcat":[
{"width":200,"height":113,"data":{"name":"sirna"},
"encoding":{"x":{"field":"gene","type":"nominal","sort":["AT1G33370","AT2G01422","AT4G04293"],"scale":{"paddingInner":0.36,"paddingOuter":0.07},"axis":{"title":null,"labelAngle":0,"ticks":false,"labelFontSize":13,"labelFontWeight":"normal","labelFontStyle":"italic","labelPadding":4,"labelOverlap":false}},"xOffset":{"field":"g","type":"nominal","sort":["WT","ibm1-3"]}},
"layer":[
{"mark":{"type":"bar","stroke":"#333333","strokeWidth":1.4},"encoding":{"y":{"field":"v","type":"quantitative","scale":{"domain":[0,1.2],"nice":false},"axis":{"values":[0,0.2,0.4,0.6,0.8,1,1.2],"labelOverlap":false,"labelExpr":"datum.value===0?'0':format(datum.value,'.1f')","title":"Relative siRNA Level","titleFontSize":12.5,"titlePadding":0,"minExtent":27,"maxExtent":27}},
"fill":{"condition":{"test":"datum.g==='WT'","value":"#ffffff"},"value":"#a3a3a3"}}},
{"transform":[{"filter":"isValid(datum.hi)"}],"mark":"rule","encoding":{"y":{"field":"v","type":"quantitative","axis":{"values":[0,0.2,0.4,0.6,0.8,1,1.2],"labelOverlap":false,"labelExpr":"datum.value===0?'0':format(datum.value,'.1f')","title":"Relative siRNA Level","titleFontSize":12.5,"titlePadding":0,"minExtent":27,"maxExtent":27}},"y2":{"field":"hi"}}},
{"transform":[{"filter":"isValid(datum.hi)"}],"mark":{"type":"tick","size":10},"encoding":{"y":{"field":"hi","type":"quantitative","axis":{"values":[0,0.2,0.4,0.6,0.8,1,1.2],"labelOverlap":false,"labelExpr":"datum.value===0?'0':format(datum.value,'.1f')","title":"Relative siRNA Level","titleFontSize":12.5,"titlePadding":0,"minExtent":27,"maxExtent":27}}}},
{"transform":[{"filter":"isValid(datum.hi)"}],"mark":{"type":"text","text":"*","baseline":"alphabetic","dy":1},"encoding":{"y":{"field":"hi","type":"quantitative","axis":{"values":[0,0.2,0.4,0.6,0.8,1,1.2],"labelOverlap":false,"labelExpr":"datum.value===0?'0':format(datum.value,'.1f')","title":"Relative siRNA Level","titleFontSize":12.5,"titlePadding":0,"minExtent":27,"maxExtent":27}}}}
]},
{"width":19,"height":41,"data":{"name":"legB"},
"encoding":{"y":{"field":"g","type":"nominal","sort":["WT","ibm1-3"],"scale":{"type":"point","paddingOuter":0.7},"axis":null}},
"layer":[
{"mark":{"type":"point","shape":"M-1,-0.45L1,-0.45L1,0.45L-1,0.45Z","filled":true,"size":361,"opacity":1,"stroke":"#333333","strokeWidth":1.3},"encoding":{"fill":{"condition":{"test":"datum.g==='WT'","value":"#ffffff"},"value":"#a3a3a3"}}},
{"transform":[{"filter":"datum.g==='WT'"}],"mark":{"type":"text","align":"left","dx":17,"fontSize":13,"fontWeight":"bold"},"encoding":{"text":{"field":"g"}}},
{"transform":[{"filter":"datum.g!=='WT'"}],"mark":{"type":"text","align":"left","dx":17,"fontSize":13,"fontStyle":"italic","fontWeight":"bold"},"encoding":{"text":{"field":"g"}}}
]}
],"spacing":0}
],
"spacing":10
}
